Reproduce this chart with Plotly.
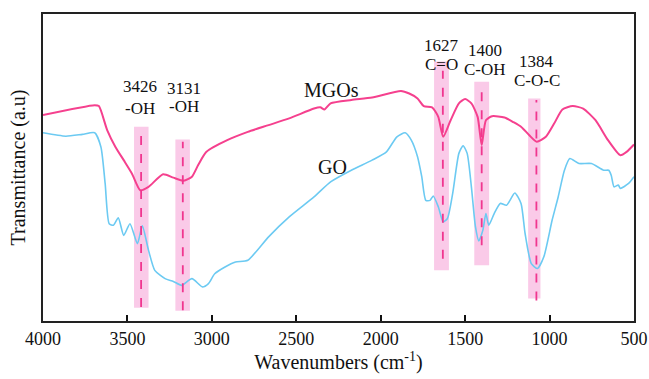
import plotly.graph_objects as go

# ---- data (wavenumber cm-1, transmittance a.u.) ----
mgo_wn = [4000, 3694, 3669, 3620, 3571, 3522, 3473, 3424, 3375, 3289, 3228, 3167, 3118, 3081,
          3032, 2909, 2787, 2664, 2542, 2395, 2358, 2333, 2297, 2174, 2051, 1880, 1831, 1782,
          1745, 1696, 1659, 1630, 1586, 1537, 1500, 1463, 1426, 1402, 1377, 1341, 1267, 1218,
          1169, 1120, 1076, 1022, 973, 924, 863, 801, 728, 654, 581, 544, 500]
mgo_t = [67.1, 70.3, 70.0, 62.2, 56.7, 52.4, 48.0, 42.6, 43.7, 47.8, 46.7, 45.7, 47.0, 50.8,
         55.1, 58.9, 61.6, 63.8, 66.0, 69.2, 69.6, 68.9, 70.9, 72.0, 72.8, 74.9, 74.1, 72.5,
         70.0, 69.6, 66.5, 60.0, 65.4, 70.9, 72.3, 70.9, 66.5, 57.3, 65.4, 66.7, 66.3, 64.9,
         63.3, 60.5, 58.4, 60.0, 64.3, 68.9, 70.0, 69.2, 65.4, 58.9, 54.0, 55.1, 57.5]

go_wn = [4000, 3865, 3767, 3694, 3657, 3632, 3608, 3583, 3554, 3522, 3485, 3441, 3412, 3375,
         3338, 3277, 3228, 3179, 3118, 3056, 3020, 2983, 2922, 2860, 2787, 2664, 2542, 2395,
         2297, 2174, 2051, 1966, 1904, 1855, 1819, 1782, 1757, 1733, 1708, 1689, 1659, 1630,
         1605, 1574, 1537, 1512, 1488, 1463, 1439, 1419, 1395, 1377, 1360, 1328, 1292, 1255,
         1206, 1169, 1145, 1108, 1071, 1034, 985, 949, 912, 880, 826, 752, 679, 650, 635,
         618, 593, 581, 532, 500]
go_t = [61.3, 60.2, 60.8, 61.3, 56.7, 44.8, 31.7, 31.2, 33.6, 27.9, 31.7, 25.2, 31.0, 23.0,
        16.5, 13.8, 12.9, 11.6, 13.8, 11.1, 12.2, 15.4, 17.6, 19.2, 19.8, 27.4, 33.9, 40.4,
        45.3, 49.1, 52.4, 55.1, 60.0, 61.3, 58.9, 53.5, 47.0, 39.3, 39.3, 40.7, 37.2, 32.3,
        33.4, 41.5, 54.6, 57.1, 54.6, 43.7, 30.7, 26.1, 29.6, 35.0, 31.2, 35.0, 38.3, 37.7,
        41.7, 38.3, 28.5, 18.7, 17.1, 20.9, 32.8, 40.4, 49.1, 52.9, 51.3, 51.3, 49.1, 49.1, 47.5,
        43.7, 44.3, 43.2, 44.8, 47.0]

# highlighted bands: [x0, x1, y0, y1], dashed marker line: [x, y0, y1]
band_x0 = [3461, 3216, 1684, 1446, 1127]
band_x1 = [3375, 3130, 1596, 1358, 1054]
band_y0 = [4.3, 3.3, 16.5, 18.2, 7.3]
band_y1 = [63.3, 59.1, 84.5, 77.9, 72.5]
dash_x = [3419, 3172, 1632, 1402, 1078]
dash_y0 = [4.6, 3.5, 20.3, 24.7, 6.7]
dash_y1 = [62.7, 58.4, 81.5, 75.2, 72.0]

peak_labels = ["3426", "3131", "1627", "1400", "1384"]
group_labels = ["-OH", "-OH", "C=O", "C-OH", "C-O-C"]
label_x = [3424, 3167, 1642, 1385, 1076]
label_y1 = [76.5, 75.8, 89.6, 88.0, 84.5]
label_y2 = [69.2, 70.0, 83.4, 82.0, 78.5]

series_names = ["MGOs", "GO"]
series_label_x = [2289, 2284]
series_label_y = [75.4, 50.2]

x_ticks = [4000, 3500, 3000, 2500, 2000, 1500, 1000, 500]

FONT = "Liberation Serif, Times New Roman, serif"
PINK = "#F5408E"
BLUE = "#6CCAF2"

fig = go.Figure()

shapes = []
for i in range(len(band_x0)):
    shapes.append(dict(type="rect", xref="x", yref="y", x0=band_x0[i], x1=band_x1[i],
                       y0=band_y0[i], y1=band_y1[i], fillcolor="rgba(248,180,222,0.7)",
                       line=dict(width=0), layer="below"))
for i in range(len(dash_x)):
    shapes.append(dict(type="line", xref="x", yref="y", x0=dash_x[i], x1=dash_x[i],
                       y0=dash_y0[i], y1=dash_y1[i],
                       line=dict(color="#F0368F", width=1.8, dash="dash"), layer="above"))

fig.add_trace(go.Scatter(x=go_wn, y=go_t, mode="lines", name="GO",
                         line=dict(color=BLUE, width=1.6, shape="spline", smoothing=0.6)))
fig.add_trace(go.Scatter(x=mgo_wn, y=mgo_t, mode="lines", name="MGOs",
                         line=dict(color=PINK, width=2, shape="spline", smoothing=0.6)))

annotations = []
for i in range(len(peak_labels)):
    annotations.append(dict(x=label_x[i], y=label_y1[i], text=peak_labels[i], showarrow=False,
                            xref="x", yref="y", font=dict(family=FONT, size=17, color="#111")))
    annotations.append(dict(x=label_x[i], y=label_y2[i], text=group_labels[i], showarrow=False,
                            xref="x", yref="y", font=dict(family=FONT, size=17, color="#111")))
for i in range(len(series_names)):
    annotations.append(dict(x=series_label_x[i], y=series_label_y[i], text=series_names[i],
                            showarrow=False, xref="x", yref="y",
                            font=dict(family=FONT, size=20, color="#111")))

fig.update_layout(
    width=649, height=379,
    margin=dict(l=43, r=15, t=14, b=58, autoexpand=False),
    paper_bgcolor="white", plot_bgcolor="white",
    showlegend=False,
    shapes=shapes, annotations=annotations,
    font=dict(family=FONT, color="#111"),
)
fig.update_xaxes(range=[4000, 500], tickvals=x_ticks, ticktext=[str(v) for v in x_ticks],
                 ticks="inside", ticklen=6, tickwidth=2, tickcolor="#111", automargin=False,
                 showgrid=False, zeroline=False, showline=True, linecolor="#222", linewidth=2,
                 mirror=True, tickfont=dict(family=FONT, size=18, color="#111"),
                 title=dict(text="Wavenumbers (cm<sup>-1</sup>)", standoff=7,
                            font=dict(family=FONT, size=20, color="#111")))
fig.update_yaxes(range=[0, 100], showticklabels=False, ticks="", showgrid=False, zeroline=False,
                 showline=True, linecolor="#222", linewidth=2, mirror=True, automargin=False,
                 title=dict(text="Transmittance (a.u)", standoff=10,
                            font=dict(family=FONT, size=20, color="#111")))

fig.write_html("out.html")
